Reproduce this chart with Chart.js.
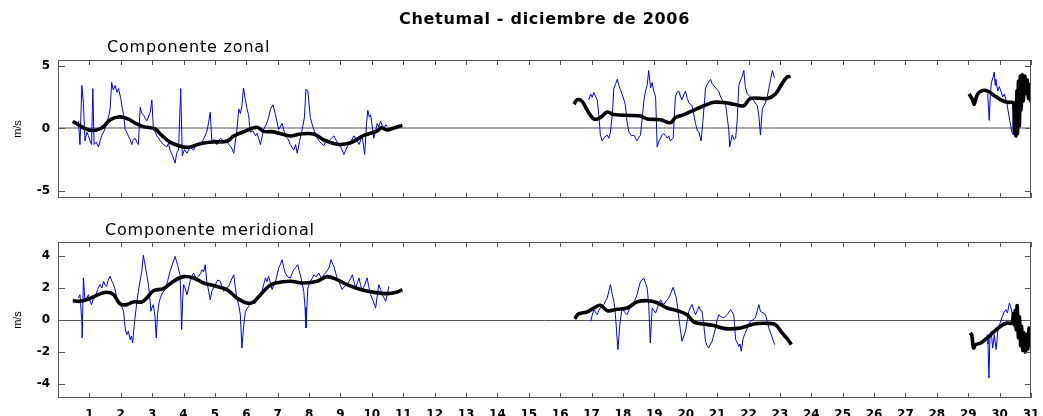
<!DOCTYPE html>
<html>
<head>
<meta charset="utf-8">
<script src="https://cdn.jsdelivr.net/npm/chart.js@4/dist/chart.umd.min.js"></script>
<style>
  body { margin: 0; background: #fff; }
  #wrap { position: relative; width: 1043px; height: 416px; font-family: "DejaVu Sans", sans-serif; }
  canvas { position: absolute; left: 0; }
  #cTop { top: 0; }
  #cBot { top: 222px; }
  .lbl { position: absolute; white-space: nowrap; color: #000; }
  #title { left: 58px; width: 973px; top: 9px; text-align: center; font-weight: bold; font-size: 16px; letter-spacing: 0.7px; }
  #subZ { left: 107px; top: 37px; font-size: 16px; letter-spacing: 0.8px; }
  #subM { left: 105px; top: 220px; font-size: 16px; letter-spacing: 0.8px; }
</style>
</head>
<body>
<div id="wrap">
  <canvas id="cTop" width="1043" height="222"></canvas>
  <canvas id="cBot" width="1043" height="194"></canvas>
  <div class="lbl" id="title">Chetumal - diciembre de 2006</div>
  <div class="lbl" id="subZ">Componente zonal</div>
  <div class="lbl" id="subM">Componente meridional</div>
</div>
<script>
// Chetumal, diciembre de 2006 - componentes de la corriente (m/s)
const dayTicks = [1, 2, 3, 4, 5, 6, 7, 8, 9, 10, 11, 12, 13, 14, 15, 16, 17, 18, 19, 20,
                  21, 22, 23, 24, 25, 26, 27, 28, 29, 30, 31];
const zonalTicks = [-5, 0, 5];
const meridTicks = [-4, -2, 0, 2, 4];

// componente zonal: serie observada (azul) y filtrada (negro), [dia, m/s]
const zonalObs1 = [[0.65,0.6],[0.70,-1.3],[0.76,3.45],[0.81,2.0],[0.86,-1.0],[0.92,-0.3],[0.97,-0.6],[1.02,-1.0],[1.07,-1.3],[1.11,3.2],[1.15,-1.3],[1.22,-1.1],[1.29,-1.5],[1.34,-1.0],[1.39,-0.6],[1.47,-0.2],[1.55,0.4],[1.61,0.9],[1.66,1.55],[1.71,3.7],[1.76,3.1],[1.82,3.45],[1.88,2.9],[1.93,3.2],[2.0,2.4],[2.05,1.6],[2.09,1.1],[2.14,-0.1],[2.19,-0.3],[2.24,-0.6],[2.30,-0.9],[2.35,-1.3],[2.40,-0.9],[2.46,-0.8],[2.51,-1.1],[2.56,-1.3],[2.62,1.7],[2.67,1.2],[2.72,1.1],[2.78,0.8],[2.83,0.6],[2.89,1.0],[2.94,1.3],[2.99,2.3],[3.04,-0.1],[3.10,-0.3],[3.15,-0.6],[3.21,-0.8],[3.26,-1.0],[3.36,-1.3],[3.47,-1.5],[3.52,-1.2],[3.57,-1.75],[3.65,-2.2],[3.73,-2.8],[3.78,-2.0],[3.84,-1.75],[3.91,3.2],[3.96,-2.2],[4.03,-1.7],[4.11,-2.0],[4.21,-1.5],[4.32,-1.75],[4.42,-1.2],[4.53,-1.3],[4.63,-0.9],[4.74,-0.3],[4.80,0.5],[4.85,1.3],[4.90,-1.0],[4.98,-0.9],[5.06,-1.3],[5.17,-0.8],[5.28,-1.0],[5.36,-0.9],[5.44,-1.3],[5.52,-1.5],[5.60,-2.0],[5.70,-0.1],[5.76,1.55],[5.81,1.2],[5.86,1.8],[5.91,3.25],[5.97,2.3],[6.02,1.6],[6.07,1.1],[6.13,-0.3],[6.21,-0.2],[6.29,-0.6],[6.34,-0.4],[6.39,-0.8],[6.45,-1.3],[6.55,-0.1],[6.63,0.3],[6.71,0.85],[6.77,1.55],[6.85,1.9],[6.93,1.1],[7.03,-0.1],[7.14,0.4],[7.24,-0.6],[7.32,-0.8],[7.40,-1.3],[7.51,-1.75],[7.57,-1.3],[7.62,-2.0],[7.70,-1.0],[7.78,-0.1],[7.85,0.85],[7.90,3.15],[7.96,3.0],[8.04,0.85],[8.10,0.3],[8.15,-0.1],[8.23,-0.6],[8.31,-1.0],[8.39,-1.2],[8.47,-1.4],[8.55,-0.9],[8.63,-1.0],[8.71,-0.8],[8.79,-0.6],[8.87,-1.0],[8.95,-1.3],[9.03,-1.6],[9.11,-2.1],[9.21,-1.5],[9.32,-1.1],[9.43,-0.6],[9.51,-0.9],[9.59,-1.3],[9.69,-0.6],[9.77,-2.1],[9.83,0.4],[9.87,1.45],[9.92,0.9],[9.96,1.1],[10.01,0.2],[10.06,-0.8],[10.12,-0.2],[10.17,0.4],[10.22,0.1],[10.28,0.6],[10.33,0.2],[10.38,-0.1],[10.44,0.3],[10.49,0.14]];
const zonalObs2 = [[16.91,2.3],[16.97,2.77],[17.02,2.5],[17.07,2.89],[17.12,2.6],[17.18,2.3],[17.23,1.11],[17.28,-0.54],[17.34,-1.0],[17.42,-0.7],[17.50,-0.54],[17.55,-0.8],[17.60,-0.3],[17.66,1.11],[17.71,3.24],[17.77,3.6],[17.82,3.95],[17.87,3.45],[17.92,3.1],[17.97,2.77],[18.03,2.3],[18.08,1.82],[18.13,0.5],[18.19,-0.3],[18.27,-0.6],[18.35,-0.54],[18.40,-0.8],[18.45,-1.0],[18.51,-0.7],[18.56,-0.54],[18.62,1.0],[18.67,2.3],[18.72,3.0],[18.77,3.45],[18.82,4.66],[18.88,3.24],[18.93,3.69],[18.98,3.0],[19.04,2.53],[19.09,-1.49],[19.15,-1.0],[19.20,-0.78],[19.25,-0.5],[19.30,-0.43],[19.36,-0.6],[19.41,-0.78],[19.46,-0.6],[19.51,-1.0],[19.60,-0.78],[19.67,2.53],[19.72,2.9],[19.78,3.0],[19.83,2.6],[19.88,2.3],[19.94,2.7],[19.99,3.0],[20.05,2.4],[20.10,2.06],[20.20,1.82],[20.31,0.4],[20.37,-0.2],[20.42,-0.3],[20.49,-1.0],[20.55,0.64],[20.63,3.24],[20.70,3.6],[20.79,3.95],[20.84,3.6],[20.89,3.45],[20.97,3.2],[21.05,3.0],[21.10,2.6],[21.16,2.3],[21.27,1.94],[21.37,-0.07],[21.40,-1.49],[21.48,-0.54],[21.54,-0.9],[21.59,-0.78],[21.64,0.64],[21.69,3.47],[21.75,3.9],[21.80,4.18],[21.85,4.66],[21.90,3.3],[21.96,2.77],[22.06,2.53],[22.17,2.2],[22.28,1.82],[22.33,1.0],[22.38,-0.54],[22.44,1.58],[22.54,2.06],[22.60,2.6],[22.65,3.24],[22.70,3.9],[22.76,4.66],[22.83,4.07]];
const zonalObs3 = [[29.62,2.77],[29.67,0.64],[29.70,2.53],[29.74,3.71],[29.80,4.18],[29.83,4.54],[29.86,3.47],[29.88,3.95],[29.94,3.0],[29.99,3.36],[30.04,3.0],[30.10,2.53],[30.15,2.77],[30.23,2.06],[30.29,1.11],[30.34,0.4],[30.39,-0.3],[30.44,-0.54],[30.47,-0.07]];
const zonalFit1 = [[0.47,0.57],[0.70,0.21],[0.85,0.0],[1.0,-0.14],[1.23,-0.14],[1.45,0.14],[1.66,0.69],[1.93,0.92],[2.19,0.80],[2.46,0.43],[2.72,0.14],[3.1,-0.05],[3.26,-0.45],[3.57,-1.11],[4.0,-1.5],[4.21,-1.5],[4.53,-1.23],[4.96,-1.09],[5.38,-1.04],[5.6,-0.61],[5.91,-0.28],[6.34,0.09],[6.55,-0.24],[6.87,-0.28],[7.4,-0.61],[7.72,-0.45],[8.15,-0.45],[8.47,-0.92],[8.89,-1.28],[9.32,-1.16],[9.74,-0.57],[10.17,-0.21],[10.3,0.05],[10.48,-0.12],[10.7,0.03],[10.97,0.24]];
const zonalFit2 = [[16.44,1.94],[16.54,2.3],[16.7,2.17],[16.86,1.47],[17.07,0.76],[17.28,0.87],[17.5,1.32],[17.71,1.11],[18.24,1.04],[18.56,0.99],[18.77,0.76],[19.2,0.69],[19.51,0.45],[19.67,0.87],[19.94,1.11],[20.26,1.47],[20.58,1.82],[20.89,2.1],[21.27,2.06],[21.53,1.94],[21.85,1.82],[22.06,2.41],[22.6,2.41],[22.86,2.77],[23.07,3.6],[23.23,4.14],[23.34,4.18]];
const zonalFit3 = [[29.03,2.77],[29.14,2.3],[29.19,1.94],[29.3,2.77],[29.46,3.05],[29.62,3.0],[29.82,2.65],[30.04,2.3],[30.25,2.1],[30.41,2.1],[30.45,2.0],[30.47,-0.3],[30.5,1.5],[30.52,-0.6],[30.55,3.0],[30.57,-0.4],[30.6,3.8],[30.63,0.2],[30.66,4.2],[30.69,1.5],[30.72,4.3],[30.75,2.2],[30.8,4.2],[30.84,2.8],[30.88,3.9],[30.92,2.4],[30.96,3.5],[31.0,2.1]];

// componente meridional
const meridObs1 = [[0.65,1.38],[0.70,1.58],[0.76,-0.08],[0.77,-1.13],[0.81,2.63],[0.86,1.17],[0.92,1.4],[0.97,1.58],[1.02,1.2],[1.07,0.96],[1.12,1.3],[1.18,1.38],[1.26,1.9],[1.34,2.21],[1.40,2.0],[1.45,2.42],[1.50,2.2],[1.55,2.1],[1.60,2.5],[1.66,2.73],[1.72,2.4],[1.77,2.21],[1.82,1.9],[1.87,1.38],[1.93,1.2],[1.98,0.96],[2.04,0.8],[2.09,0.54],[2.14,-0.5],[2.19,-0.92],[2.24,-0.7],[2.30,-1.23],[2.34,-1.0],[2.38,-1.44],[2.43,-0.29],[2.49,0.75],[2.56,1.79],[2.62,2.5],[2.67,3.04],[2.72,4.04],[2.76,3.6],[2.80,3.15],[2.84,2.7],[2.88,2.21],[2.92,1.5],[2.96,0.54],[3.00,0.8],[3.04,0.96],[3.09,0.2],[3.13,-1.13],[3.17,0.33],[3.21,1.0],[3.26,1.38],[3.33,1.7],[3.41,1.9],[3.49,2.4],[3.57,3.04],[3.65,3.5],[3.73,3.98],[3.77,3.7],[3.81,3.46],[3.85,3.1],[3.89,2.83],[3.94,-0.6],[3.97,1.2],[4.00,2.21],[4.05,2.0],[4.11,1.58],[4.16,2.0],[4.21,2.42],[4.26,2.7],[4.32,2.94],[4.40,2.6],[4.48,2.73],[4.54,2.9],[4.59,3.15],[4.64,3.0],[4.69,3.46],[4.74,2.42],[4.80,1.8],[4.85,1.27],[4.90,1.79],[4.95,2.0],[5.01,2.21],[5.09,2.5],[5.17,2.42],[5.22,2.1],[5.28,1.79],[5.36,2.0],[5.44,2.1],[5.52,2.5],[5.60,2.83],[5.65,2.0],[5.70,1.38],[5.76,0.9],[5.81,0.33],[5.86,-1.75],[5.91,-0.5],[5.97,0.54],[6.02,0.7],[6.07,0.85],[6.13,1.0],[6.18,1.17],[6.26,1.0],[6.34,1.27],[6.42,1.5],[6.50,1.79],[6.55,2.2],[6.61,2.63],[6.66,2.4],[6.71,2.73],[6.77,2.3],[6.82,1.9],[6.88,2.2],[6.93,2.42],[6.98,2.8],[7.03,3.25],[7.09,3.5],[7.14,3.77],[7.19,3.3],[7.24,2.94],[7.32,2.7],[7.40,2.63],[7.46,2.9],[7.51,3.15],[7.58,3.3],[7.64,3.46],[7.68,3.1],[7.72,2.83],[7.78,2.3],[7.83,1.79],[7.87,0.8],[7.90,-0.5],[7.93,0.8],[7.96,2.0],[8.00,2.2],[8.04,2.42],[8.10,2.6],[8.15,2.83],[8.23,2.7],[8.31,2.94],[8.39,2.6],[8.47,2.83],[8.55,3.0],[8.63,3.25],[8.70,3.77],[8.75,3.5],[8.79,3.35],[8.84,3.0],[8.89,2.63],[8.97,2.3],[9.05,1.9],[9.13,2.1],[9.21,2.21],[9.30,2.5],[9.38,2.83],[9.43,2.4],[9.48,2.0],[9.54,2.3],[9.59,2.63],[9.64,2.2],[9.69,1.79],[9.77,2.2],[9.85,2.63],[9.90,2.1],[9.96,1.58],[10.04,1.2],[10.12,0.75],[10.17,1.5],[10.22,2.21],[10.28,1.9],[10.33,1.58],[10.38,1.4],[10.44,1.17],[10.49,1.6],[10.54,2.1]];
const meridObs2 = [[16.97,-0.08],[17.02,0.3],[17.07,0.65],[17.12,0.5],[17.18,0.33],[17.23,0.6],[17.28,0.75],[17.34,0.9],[17.39,0.96],[17.45,1.2],[17.50,1.38],[17.55,1.8],[17.60,2.21],[17.66,1.6],[17.71,1.17],[17.76,0.33],[17.80,-0.8],[17.84,-1.85],[17.90,-0.29],[17.97,0.75],[18.05,0.5],[18.13,0.33],[18.21,0.7],[18.29,0.96],[18.37,1.2],[18.45,1.58],[18.50,2.0],[18.56,2.42],[18.61,2.5],[18.66,2.63],[18.72,2.3],[18.77,2.0],[18.82,1.0],[18.87,-1.44],[18.93,0.75],[18.98,0.6],[19.04,0.44],[19.12,0.9],[19.20,1.27],[19.25,1.1],[19.30,0.96],[19.38,1.2],[19.46,1.38],[19.53,1.7],[19.60,2.04],[19.65,1.7],[19.70,1.38],[19.74,0.8],[19.78,0.13],[19.83,-0.6],[19.88,-1.33],[19.94,-1.0],[19.99,-0.71],[20.05,0.0],[20.10,0.54],[20.15,0.8],[20.20,0.96],[20.26,0.6],[20.31,0.33],[20.37,0.6],[20.42,0.85],[20.47,0.6],[20.52,0.54],[20.58,-0.4],[20.63,-1.33],[20.68,-1.6],[20.73,-1.75],[20.79,-1.5],[20.84,-1.33],[20.90,-0.9],[20.95,-0.5],[21.00,0.0],[21.05,0.33],[21.13,0.2],[21.21,0.13],[21.27,0.25],[21.32,0.33],[21.38,0.5],[21.43,0.65],[21.48,0.5],[21.53,0.33],[21.56,-0.5],[21.59,-1.23],[21.64,-1.4],[21.69,-1.65],[21.73,-1.5],[21.77,-1.96],[21.83,-1.13],[21.90,-0.8],[21.96,-0.5],[22.01,-0.3],[22.06,-0.08],[22.14,0.0],[22.22,0.13],[22.28,0.6],[22.33,0.96],[22.38,0.54],[22.46,0.45],[22.54,0.33],[22.60,-0.1],[22.65,-0.5],[22.70,-0.8],[22.76,-1.13],[22.83,-1.54]];
const meridObs3 = [[29.60,-0.92],[29.63,-1.5],[29.66,-3.63],[29.69,-1.13],[29.73,-0.71],[29.78,-1.75],[29.83,-0.92],[29.89,-1.85],[29.94,-0.71],[30.00,-0.29],[30.07,0.13],[30.13,0.44],[30.20,0.65],[30.25,0.44],[30.31,1.06],[30.35,0.85],[30.41,0.33]];
const meridFit1 = [[0.47,1.21],[0.7,1.17],[1.0,1.33],[1.23,1.54],[1.55,1.73],[1.77,1.58],[1.98,1.0],[2.19,0.96],[2.4,1.13],[2.67,1.13],[2.83,1.38],[3.04,1.83],[3.36,1.96],[3.68,2.42],[4.0,2.71],[4.32,2.63],[4.64,2.31],[5.06,2.1],[5.38,1.9],[5.7,1.38],[6.02,1.06],[6.23,1.13],[6.45,1.58],[6.71,2.1],[6.93,2.31],[7.4,2.42],[7.83,2.31],[8.26,2.42],[8.57,2.71],[8.89,2.52],[9.21,2.21],[9.64,1.9],[10.06,1.73],[10.49,1.65],[10.81,1.75],[10.97,1.9]];
const meridFit2 = [[16.46,0.08],[16.59,0.38],[16.86,0.5],[17.07,0.75],[17.28,0.92],[17.5,0.58],[17.82,0.67],[18.13,0.75],[18.45,1.13],[18.77,1.21],[19.09,1.08],[19.41,0.75],[19.73,0.58],[20.04,0.33],[20.26,-0.13],[20.58,-0.25],[20.89,-0.35],[21.27,-0.54],[21.74,-0.5],[22.17,-0.25],[22.6,-0.21],[22.86,-0.29],[23.07,-0.81],[23.26,-1.23],[23.36,-1.54]];
const meridFit3 = [[29.06,-0.81],[29.11,-0.92],[29.17,-1.75],[29.24,-1.54],[29.4,-1.44],[29.6,-1.13],[29.81,-0.75],[30.02,-0.4],[30.23,-0.19],[30.39,-0.19],[30.44,0.4],[30.47,-0.3],[30.5,0.6],[30.53,-0.6],[30.56,0.9],[30.6,-1.1],[30.63,0.2],[30.67,-1.6],[30.7,-0.4],[30.74,-1.9],[30.78,-0.8],[30.82,-2.0],[30.86,-0.9],[30.9,-1.8],[30.94,-0.5],[30.97,-1.5],[31.0,-0.7]];

const toXY = arr => arr.map(p => ({ x: p[0], y: p[1] }));

function obsSet(arr) {
    return { data: toXY(arr), borderColor: 'rgb(0, 0, 235)', borderWidth: 1, pointRadius: 0, tension: 0, order: 2 };
}
function fitSet(arr) {
    return { data: toXY(arr), borderColor: '#000', borderWidth: 3.6, pointRadius: 0, tension: 0.35, order: 1 };
}

const tickFont = { family: 'DejaVu Sans', size: 12, weight: 'bold' };

// marco completo con marcas hacia dentro (estilo matlab)
const frame = {
    id: 'frame',
    afterDatasetsDraw(chart) {
        const { ctx, chartArea: a, scales: { x, y } } = chart;
        ctx.save();
        ctx.strokeStyle = '#555';
        ctx.lineWidth = 1;
        ctx.strokeRect(a.left + 0.5, a.top + 0.5, a.width - 1, a.height - 1);
        ctx.beginPath();
        dayTicks.forEach(d => {
            const px = Math.round(x.getPixelForValue(d)) + 0.5;
            ctx.moveTo(px, a.top); ctx.lineTo(px, a.top + 5);
            ctx.moveTo(px, a.bottom); ctx.lineTo(px, a.bottom - 5);
        });
        y.ticks.forEach(t => {
            const py = Math.round(y.getPixelForValue(t.value)) + 0.5;
            ctx.moveTo(a.left, py); ctx.lineTo(a.left + 7, py);
            ctx.moveTo(a.right, py); ctx.lineTo(a.right - 6, py);
        });
        ctx.stroke();
        ctx.restore();
    }
};

function makeChart(id, datasets, yTicks, yMin, yMax, zeroColor, zeroWidth, showX, pad) {
    return new Chart(document.getElementById(id), {
        type: 'line',
        data: { datasets: datasets },
        options: {
            responsive: false,
            animation: false,
            devicePixelRatio: 1,
            layout: { padding: pad },
            plugins: { legend: { display: false }, tooltip: { enabled: false } },
            scales: {
                x: {
                    type: 'linear', min: 0, max: 31,
                    display: showX,
                    afterBuildTicks: s => { s.ticks = dayTicks.map(v => ({ value: v })); },
                    afterFit: s => { s.height = 18; },
                    ticks: { color: '#000', padding: 2, maxRotation: 0, autoSkip: false, font: tickFont },
                    grid: { display: false },
                    border: { display: false }
                },
                y: {
                    min: yMin, max: yMax,
                    afterBuildTicks: s => { s.ticks = yTicks.map(v => ({ value: v })); },
                    afterFit: s => { s.width = 58; },
                    ticks: { color: '#000', padding: 8, font: tickFont },
                    grid: {
                        drawTicks: false,
                        color: c => c.tick && c.tick.value === 0 ? zeroColor : 'rgba(0,0,0,0)',
                        lineWidth: zeroWidth
                    },
                    border: { display: false },
                    title: { display: true, text: 'm/s', color: '#000', padding: { top: 11, bottom: 0 },
                             font: { family: 'Liberation Sans', size: 11 } }
                }
            }
        },
        plugins: [frame]
    });
}

makeChart('cTop',
    [fitSet(zonalFit1), fitSet(zonalFit2), fitSet(zonalFit3),
     obsSet(zonalObs1), obsSet(zonalObs2), obsSet(zonalObs3)],
    zonalTicks, -5.6, 5.5, '#a8a8a8', 2, false,
    { top: 60, right: 12, bottom: 6, left: 0 });

makeChart('cBot',
    [fitSet(meridFit1), fitSet(meridFit2), fitSet(meridFit3),
     obsSet(meridObs1), obsSet(meridObs2), obsSet(meridObs3)],
    meridTicks, -4.875, 4.875, '#555', 1, true,
    { top: 20, right: 12, bottom: 0, left: 0 });
</script>
</body>
</html>
